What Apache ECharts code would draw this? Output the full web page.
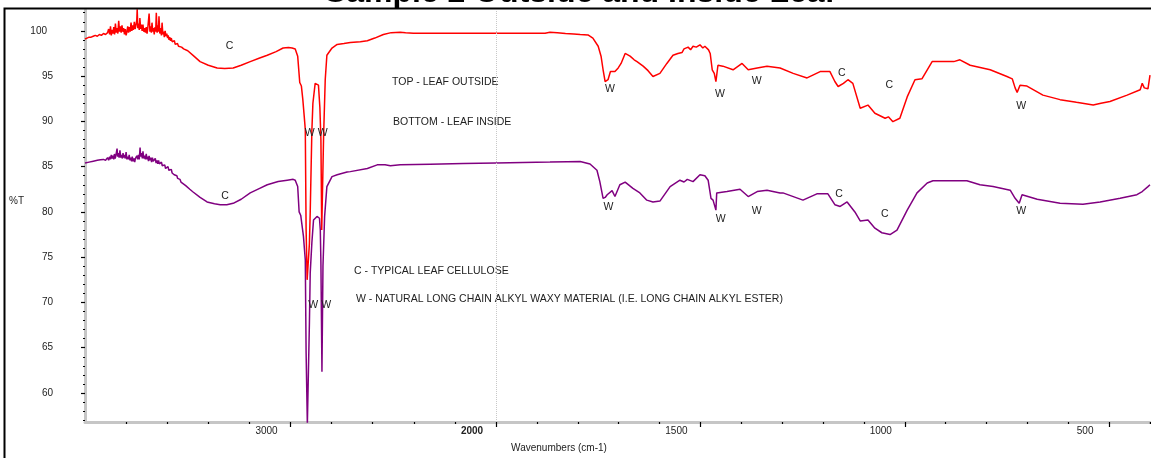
<!DOCTYPE html>
<html>
<head>
<meta charset="utf-8">
<title>Sample 2 Outside and Inside Leaf</title>
<script src="https://cdn.jsdelivr.net/npm/echarts@6/dist/echarts.min.js"></script>
<style>
  html, body { margin: 0; padding: 0; background: #fff; }
  #chart { width: 1151px; height: 458px; }
</style>
</head>
<body>
<div id="chart"></div>
<script>
// FTIR spectra, [wavenumber (cm-1), %T]
const outsideLeaf = [
  [4000, 99.1], [3990, 99.2], [3980, 99.3], [3970, 99.3], [3960, 99.4], [3950, 99.5], [3940, 99.4], [3930, 99.6],
  [3920, 99.5], [3910, 99.7], [3900, 99.6], [3890, 99.8], [3885, 100.2], [3880, 99.6], [3876, 100.5], [3872, 99.5],
  [3868, 100.1], [3864, 99.7], [3860, 100.4], [3856, 99.6], [3852, 100.8], [3848, 99.8], [3844, 100.3], [3840, 99.7],
  [3836, 101.1], [3832, 99.9], [3828, 100.5], [3824, 99.8], [3820, 100.6], [3816, 99.9], [3812, 100.3], [3808, 99.6],
  [3804, 100.2], [3800, 99.5], [3796, 99.9], [3792, 100.5], [3788, 99.8], [3784, 100.4], [3780, 99.9], [3776, 100.9],
  [3772, 100.0], [3768, 100.6], [3764, 100.1], [3760, 101.0], [3756, 100.2], [3752, 100.6], [3748, 101.2], [3746, 102.4],
  [3743, 100.3], [3740, 100.8], [3736, 100.1], [3733, 101.4], [3729, 100.2], [3726, 100.7], [3722, 100.0], [3718, 100.7],
  [3714, 99.9], [3710, 100.3], [3706, 99.8], [3702, 100.4], [3698, 99.7], [3695, 100.2], [3691, 100.0], [3688, 101.9],
  [3684, 99.9], [3681, 100.5], [3677, 99.8], [3674, 100.9], [3670, 99.9], [3667, 100.3], [3663, 99.6], [3660, 100.4],
  [3656, 99.9], [3653, 102.0], [3649, 99.8], [3646, 100.6], [3643, 99.9], [3640, 101.6], [3636, 99.7], [3632, 100.3],
  [3628, 99.5], [3625, 100.9], [3621, 99.6], [3618, 99.9], [3614, 99.3], [3610, 100.0], [3606, 99.4], [3602, 99.7],
  [3598, 99.2], [3595, 99.5], [3591, 99.0], [3588, 99.3], [3584, 98.9], [3580, 99.2], [3576, 98.8], [3572, 98.9],
  [3568, 98.6], [3565, 98.9], [3561, 98.5], [3557, 98.7], [3553, 98.4], [3550, 98.6], [3545, 98.3], [3540, 98.3],
  [3530, 98.2], [3520, 98.0], [3500, 97.8], [3470, 97.2], [3440, 96.6],
  [3400, 96.2], [3357, 95.9], [3320, 95.85], [3279, 95.9], [3240, 96.2], [3196, 96.6], [3150, 97.0], [3113, 97.3],
  [3070, 97.7], [3036, 98.1], [3010, 98.15], [2992, 98.1], [2977, 98.0], [2965, 97.2], [2955, 94.3], [2947, 93.9],
  [2940, 92.4], [2933, 90.5], [2928, 89.1], [2924, 78.0], [2919, 72.5], [2914, 72.5], [2908, 76.5], [2904, 80.0],
  [2896, 89.0], [2891, 92.0], [2880, 94.2], [2871, 94.4], [2864, 94.0], [2857, 91.5], [2852, 88.0], [2848, 78.0],
  [2842, 78.0], [2839, 88.3], [2831, 94.6], [2823, 97.3], [2798, 98.1], [2773, 98.5], [2740, 98.6], [2709, 98.7],
  [2660, 98.8], [2626, 98.9], [2590, 99.2], [2548, 99.6], [2510, 99.8], [2466, 99.85], [2440, 99.8], [2402, 99.74],
  [2200, 99.74], [2000, 99.74], [1880, 99.74], [1868, 99.85], [1850, 99.8], [1830, 99.7], [1810, 99.65], [1794, 99.6],
  [1775, 99.55], [1763, 99.2], [1750, 98.3], [1743, 97.2], [1738, 95.7], [1733, 94.4], [1726, 94.6], [1720, 95.5],
  [1716, 95.7], [1709, 95.5], [1701, 95.9], [1694, 96.4], [1684, 97.5], [1672, 97.2], [1662, 96.8], [1655, 96.6],
  [1640, 96.1], [1628, 95.6], [1616, 94.95], [1599, 95.3], [1582, 96.4], [1567, 97.3], [1555, 97.5], [1545, 97.6],
  [1540, 98.0], [1530, 98.2], [1524, 97.9], [1518, 98.3], [1510, 98.2], [1501, 98.45], [1494, 98.1], [1489, 98.3],
  [1480, 97.9], [1476, 97.5], [1471, 95.7], [1466, 95.3], [1462, 94.4], [1457, 96.2], [1445, 96.1], [1420, 95.7],
  [1398, 96.4], [1383, 95.7], [1361, 95.9], [1337, 96.1], [1305, 95.9], [1273, 95.3], [1239, 94.8], [1207, 95.5],
  [1183, 95.5], [1171, 94.4], [1163, 93.85], [1150, 94.2], [1139, 94.6], [1127, 94.2], [1109, 91.45], [1090, 91.8],
  [1073, 90.9], [1048, 90.35], [1040, 90.5], [1029, 89.97], [1012, 90.35], [994, 92.7], [975, 94.6], [958, 94.7],
  [933, 96.6], [906, 96.6], [880, 96.6], [865, 96.8], [840, 96.2], [791, 95.7], [750, 94.95], [737, 94.7],
  [730, 93.7], [725, 93.2], [718, 94.0], [701, 93.9], [662, 92.9], [620, 92.4], [580, 92.1], [539, 91.8],
  [520, 92.0], [498, 92.2], [456, 92.9], [424, 93.5], [419, 94.2], [414, 93.7], [405, 93.6], [400, 95.1]
];

const insideLeaf = [
  [4000, 85.4], [3980, 85.5], [3960, 85.6], [3940, 85.7], [3925, 85.75], [3910, 85.8], [3900, 85.7], [3890, 86.0],
  [3885, 85.7], [3880, 86.1], [3876, 85.8], [3872, 86.3], [3868, 85.9], [3864, 86.2], [3860, 85.8], [3857, 86.4],
  [3853, 85.9], [3850, 86.2], [3847, 86.0], [3844, 87.0], [3841, 86.1], [3838, 86.5], [3834, 86.0], [3830, 86.8],
  [3826, 86.0], [3822, 86.3], [3818, 85.9], [3815, 86.5], [3811, 86.0], [3808, 86.3], [3804, 85.9], [3800, 86.6],
  [3796, 85.8], [3792, 86.1], [3788, 85.8], [3785, 86.3], [3781, 85.7], [3777, 86.0], [3773, 85.6], [3770, 86.1],
  [3766, 85.6], [3762, 85.9], [3758, 85.5], [3755, 85.9], [3751, 85.7], [3748, 86.2], [3744, 85.8], [3740, 86.3],
  [3736, 85.8], [3732, 87.1], [3729, 86.1], [3725, 86.5], [3721, 85.9], [3718, 86.7], [3714, 85.9], [3710, 86.2],
  [3706, 85.8], [3702, 86.4], [3698, 85.8], [3695, 86.1], [3691, 85.6], [3688, 86.2], [3684, 85.7], [3680, 86.0],
  [3676, 85.5], [3672, 86.0], [3668, 85.6], [3665, 85.8], [3661, 85.4], [3658, 85.9], [3654, 85.4], [3650, 85.7],
  [3646, 85.3], [3642, 85.7], [3638, 85.3], [3635, 85.5], [3631, 85.2], [3628, 85.5], [3624, 85.1], [3620, 85.3],
  [3616, 85.0], [3612, 85.2], [3608, 84.8], [3604, 85.0], [3600, 84.7], [3596, 85.0], [3592, 84.6], [3588, 84.8],
  [3584, 84.5], [3580, 84.7], [3576, 84.3], [3571, 84.4], [3566, 84.1], [3562, 84.3], [3558, 83.9], [3553, 84.0],
  [3549, 83.7], [3545, 83.9], [3541, 83.5], [3538, 83.6], [3533, 83.3], [3528, 83.3], [3510, 82.9],
  [3490, 82.5], [3474, 82.2], [3440, 81.6], [3406, 81.1], [3370, 80.9], [3342, 80.8], [3310, 80.8], [3279, 80.95],
  [3240, 81.4], [3196, 82.1], [3150, 82.6], [3113, 83.0], [3060, 83.35], [3016, 83.5], [2987, 83.6], [2977, 83.5],
  [2965, 82.8], [2958, 80.0], [2950, 79.6], [2942, 79.4], [2937, 77.3], [2928, 74.7], [2924, 64.4], [2918, 56.5],
  [2914, 56.5], [2908, 67.7], [2904, 73.3], [2896, 76.6], [2888, 79.1], [2871, 79.5], [2859, 79.3], [2855, 78.0],
  [2852, 74.4], [2847, 62.35], [2842, 74.0], [2834, 79.5], [2823, 82.8], [2798, 83.9], [2773, 84.1], [2725, 84.4],
  [2709, 84.45], [2626, 84.8], [2578, 85.2], [2540, 85.2], [2514, 85.1], [2466, 85.2], [2320, 85.27], [2159, 85.35],
  [2000, 85.4], [1868, 85.5], [1826, 85.55], [1794, 85.56], [1770, 85.3], [1753, 84.6], [1746, 83.35], [1738, 81.5],
  [1733, 81.6], [1728, 81.9], [1716, 82.35], [1709, 81.7], [1697, 83.0], [1684, 83.3], [1665, 82.6], [1648, 82.1],
  [1631, 81.3], [1616, 81.1], [1599, 81.2], [1574, 82.8], [1550, 83.5], [1540, 83.3], [1532, 83.6], [1518, 83.35],
  [1501, 84.1], [1489, 84.0], [1481, 83.5], [1474, 81.5], [1469, 81.3], [1462, 80.2], [1460, 82.1], [1435, 82.25],
  [1403, 82.5], [1383, 81.7], [1361, 82.25], [1337, 82.4], [1305, 82.1], [1298, 82.1], [1249, 81.3], [1215, 82.0],
  [1188, 82.0], [1171, 80.8], [1158, 80.6], [1141, 81.1], [1122, 80.0], [1109, 79.0], [1090, 79.1], [1073, 78.2],
  [1056, 77.7], [1036, 77.5], [1019, 78.0], [994, 80.2], [970, 82.1], [945, 83.2], [931, 83.45], [889, 83.45],
  [848, 83.45], [816, 83.0], [784, 82.8], [742, 82.4], [730, 81.5], [720, 80.95], [713, 81.9], [676, 81.4],
  [620, 80.95], [564, 80.85], [522, 81.1], [473, 81.5], [432, 81.9], [419, 82.25], [405, 82.8], [400, 83.0]
];

// Band assignments: [wavenumber, %T, text]
const outsideNotes = [
  [3297, 98.27, 'C'], [2875, 88.74, 'W W'], [1721, 93.56, 'W'], [1452, 93.01, 'W'],
  [1362, 94.40, 'W'], [1154, 95.33, 'C'], [1038, 94.0, 'C'], [715, 91.72, 'W']
];
const insideNotes = [
  [3318, 81.70, 'C'], [2858, 69.74, 'W W'], [1725, 80.49, 'W'], [1450, 79.24, 'W'],
  [1362, 80.04, 'W'], [1161, 82.0, 'C'], [1049, 79.79, 'C'], [715, 80.04, 'W']
];

const highTickLabels = [3000, 2000];
const lowTickLabels = [1500, 1000, 500];
const yTickLabels = [60, 65, 70, 75, 80, 85, 90, 95, 100];

const titleText = 'Sample 2 Outside and Inside Leaf';
const xAxisTitle = 'Wavenumbers (cm-1)';
const yAxisTitle = '%T';
const captionLines = [
  'TOP - LEAF OUTSIDE',
  'BOTTOM - LEAF INSIDE',
  'C - TYPICAL LEAF CELLULOSE',
  'W - NATURAL LONG CHAIN ALKYL WAXY MATERIAL (I.E. LONG CHAIN ALKYL ESTER)'
];

// ---- layout / styling ----
const FONT = '"Liberation Sans", Arial, Helvetica, sans-serif';
const TEXT = '#222';
const AXIS_GREY = '#c6c6c6';
const BREAK = 2000;   // the x scale doubles below 2000 cm-1
const Y_MIN = 56.8, Y_MAX = 102.3;

const highPart = pts => pts.filter(p => p[0] >= BREAK);
const lowPart = pts => pts.filter(p => p[0] <= BREAK);

const minorHigh = [];
for (let w = 2200; w < 4000; w += 200) if (w % 1000) minorHigh.push(w);
const minorLow = [];
for (let w = 400; w < 2000; w += 100) if (w % 500) minorLow.push(w);
const minorY = [];
for (let v = 57; v <= 102; v++) if (v % 5) minorY.push(v);

function notesMark(notes, high) {
  return {
    silent: true,
    symbol: 'circle',
    symbolSize: 1,
    itemStyle: { color: 'rgba(0,0,0,0)' },
    label: {
      show: true, position: 'inside', formatter: '{b}',
      color: TEXT, fontSize: 10.5, fontFamily: FONT
    },
    data: notes.filter(n => high ? n[0] >= BREAK : n[0] < BREAK)
      .map(n => ({ coord: [n[0], n[1]], name: n[2] }))
  };
}

function spectrum(name, pts, color, notes, high, extra) {
  return Object.assign({
    name: name,
    type: 'line',
    xAxisIndex: high ? 0 : 2,
    yAxisIndex: high ? 0 : 2,
    data: high ? highPart(pts) : lowPart(pts),
    symbol: 'none',
    color: color,
    lineStyle: { color: color, width: 1.5 },
    clip: true,
    z: 3,
    markPoint: notesMark(notes, high)
  }, extra || {});
}

const tickLabelRich = {
  n: { fontSize: 10, fontFamily: FONT, color: TEXT, padding: [0, 48, 0, 0] },
  b: { fontSize: 10, fontFamily: FONT, color: TEXT, fontWeight: 'bold', padding: [0, 48, 0, 0] }
};

const chart = echarts.init(document.getElementById('chart'), null, { renderer: 'canvas' });

chart.setOption({
  animation: false,
  backgroundColor: '#fff',
  grid: [
    { left: 85, top: 10, width: 411, bottom: 36, outerBoundsMode: 'none' },
    { left: 496, top: 10, right: 1, bottom: 36, outerBoundsMode: 'none' }
  ],
  xAxis: [
    {
      gridIndex: 0, type: 'value', position: 'bottom', min: BREAK, max: 4000, inverse: true,
      axisLine: { show: true, lineStyle: { color: AXIS_GREY, width: 3 } },
      axisTick: { show: true, customValues: highTickLabels, length: 5, lineStyle: { color: '#000', width: 1.2 } },
      axisLabel: {
        show: true, customValues: highTickLabels, margin: 4, hideOverlap: false,
        showMinLabel: true, showMaxLabel: true,
        formatter: v => (v === BREAK ? '{b|' + v + '}' : '{n|' + v + '}'),
        rich: tickLabelRich
      },
      splitLine: { show: false }
    },
    {
      gridIndex: 0, type: 'value', position: 'bottom', min: BREAK, max: 4000, inverse: true,
      axisLine: { show: false },
      axisTick: { show: true, customValues: minorHigh, length: 2, lineStyle: { color: '#000', width: 1.2 } },
      axisLabel: { show: false },
      splitLine: { show: false }
    },
    {
      gridIndex: 1, type: 'value', position: 'bottom', min: 400, max: BREAK, inverse: true,
      axisLine: { show: true, lineStyle: { color: AXIS_GREY, width: 3 } },
      axisTick: { show: true, customValues: lowTickLabels, length: 5, lineStyle: { color: '#000', width: 1.2 } },
      axisLabel: {
        show: true, customValues: lowTickLabels, margin: 4, hideOverlap: false,
        formatter: v => '{n|' + v + '}',
        rich: tickLabelRich
      },
      splitLine: { show: false }
    },
    {
      gridIndex: 1, type: 'value', position: 'bottom', min: 400, max: BREAK, inverse: true,
      axisLine: { show: false },
      axisTick: { show: true, customValues: minorLow.concat([400]), length: 2, lineStyle: { color: '#000', width: 1.2 } },
      axisLabel: { show: false },
      splitLine: { show: false }
    }
  ],
  yAxis: [
    {
      gridIndex: 0, type: 'value', position: 'left', min: Y_MIN, max: Y_MAX,
      axisLine: { show: true, lineStyle: { color: AXIS_GREY, width: 3 } },
      axisTick: { show: true, customValues: yTickLabels, length: 4, lineStyle: { color: '#000', width: 1.2 } },
      axisLabel: {
        show: true, customValues: yTickLabels, margin: 32, hideOverlap: false,
        fontSize: 10, fontFamily: FONT, color: TEXT,
        formatter: v => (v >= 100 ? '{w|' + v + '}' : String(v)),
        rich: { w: { fontSize: 10, fontFamily: FONT, color: TEXT, padding: [0, 6, 0, 0] } }
      },
      splitLine: { show: false }
    },
    {
      gridIndex: 0, type: 'value', position: 'left', min: Y_MIN, max: Y_MAX,
      axisLine: { show: false },
      axisTick: { show: true, customValues: minorY, length: 2, lineStyle: { color: '#000', width: 1.2 } },
      axisLabel: { show: false },
      splitLine: { show: false }
    },
    {
      gridIndex: 1, type: 'value', min: Y_MIN, max: Y_MAX, show: false,
      splitLine: { show: false }
    }
  ],
  series: [
    spectrum('Leaf inside', insideLeaf, '#800080', insideNotes, true),
    spectrum('Leaf inside', insideLeaf, '#800080', insideNotes, false),
    spectrum('Leaf outside', outsideLeaf, '#ff0000', outsideNotes, true),
    spectrum('Leaf outside', outsideLeaf, '#ff0000', outsideNotes, false, {
      markLine: {
        silent: true, symbol: 'none', label: { show: false },
        lineStyle: { color: '#c8c8c8', type: 'dotted', width: 1 },
        data: [{ xAxis: BREAK }]
      }
    })
  ],
  graphic: [
    {
      type: 'rect', silent: true, z: 10,
      shape: { x: 4.5, y: 8.5, width: 1200, height: 500 },
      style: { fill: 'none', stroke: '#000', lineWidth: 2 }
    },
    {
      type: 'text', silent: true, z: 10,
      style: { text: titleText, x: 580, y: -7, textAlign: 'center', textVerticalAlign: 'middle',
        font: 'bold 32px ' + FONT, fill: '#000' }
    },
    {
      type: 'text', silent: true,
      style: { text: yAxisTitle, x: 9, y: 201, textVerticalAlign: 'middle',
        font: '10px ' + FONT, fill: TEXT }
    },
    {
      type: 'text', silent: true,
      style: { text: xAxisTitle, x: 559, y: 448, textAlign: 'center', textVerticalAlign: 'middle',
        font: '10px ' + FONT, fill: TEXT }
    },
    {
      type: 'text', silent: true,
      style: { text: captionLines[0], x: 392, y: 82, textVerticalAlign: 'middle', font: '10.5px ' + FONT, fill: TEXT }
    },
    {
      type: 'text', silent: true,
      style: { text: captionLines[1], x: 393, y: 122, textVerticalAlign: 'middle', font: '10.5px ' + FONT, fill: TEXT }
    },
    {
      type: 'text', silent: true,
      style: { text: captionLines[2], x: 354, y: 271, textVerticalAlign: 'middle', font: '10.5px ' + FONT, fill: TEXT }
    },
    {
      type: 'text', silent: true,
      style: { text: captionLines[3], x: 356, y: 299, textVerticalAlign: 'middle', font: '10.5px ' + FONT, fill: TEXT }
    }
  ]
});
</script>
</body>
</html>
